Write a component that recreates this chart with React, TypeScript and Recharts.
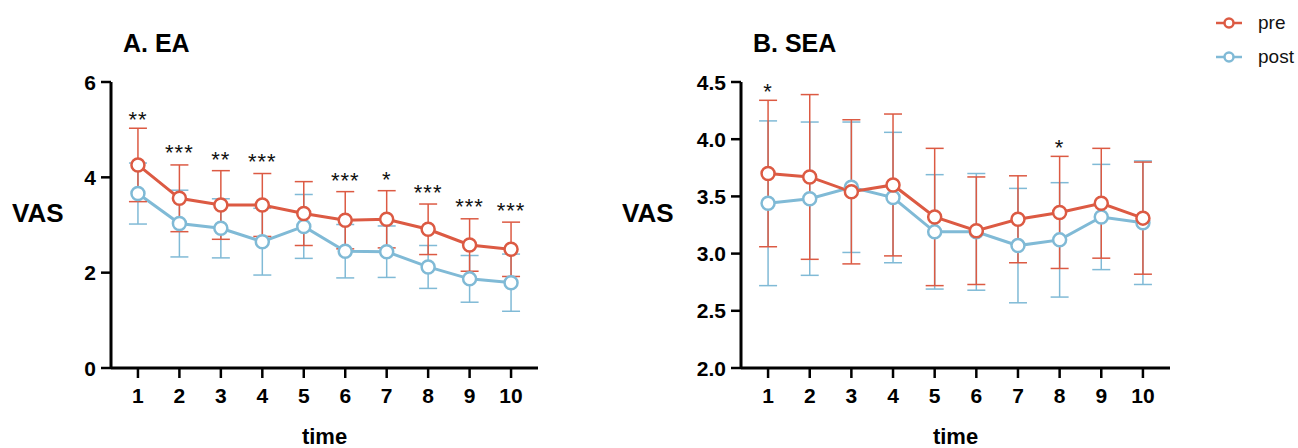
import React from "react";
import {
  LineChart, Line, XAxis, YAxis, ErrorBar, LabelList, Legend,
} from "recharts";

const PRE = "#dc5a43";
const POST = "#80bad6";
const FONT = "'Liberation Sans', Arial, Helvetica, sans-serif";

const times = [1, 2, 3, 4, 5, 6, 7, 8, 9, 10];

// A. EA
const eaPre = [4.26, 3.56, 3.42, 3.42, 3.24, 3.10, 3.12, 2.91, 2.58, 2.49];
const eaPreSd = [0.77, 0.70, 0.72, 0.66, 0.67, 0.60, 0.60, 0.53, 0.55, 0.57];
const eaPost = [3.66, 3.03, 2.93, 2.65, 2.97, 2.45, 2.44, 2.12, 1.87, 1.79];
const eaPostSd = [0.64, 0.70, 0.62, 0.70, 0.67, 0.56, 0.54, 0.45, 0.49, 0.60];
const eaSig = ["**", "***", "**", "***", "", "***", "*", "***", "***", "***"];
const eaSigY = [5.30, 4.61, 4.47, 4.42, null, 4.03, 4.05, 3.77, 3.48, 3.40];
const eaTicks = [0, 2, 4, 6];

// B. SEA
const seaPre = [3.70, 3.67, 3.54, 3.60, 3.32, 3.20, 3.30, 3.36, 3.44, 3.31];
const seaPreSd = [0.64, 0.72, 0.63, 0.62, 0.60, 0.47, 0.38, 0.49, 0.48, 0.49];
const seaPost = [3.44, 3.48, 3.58, 3.49, 3.19, 3.19, 3.07, 3.12, 3.32, 3.27];
const seaPostSd = [0.72, 0.67, 0.57, 0.57, 0.50, 0.51, 0.50, 0.50, 0.46, 0.54];
const seaSig = ["*", "", "", "", "", "", "", "*", "", ""];
const seaSigY = [4.46, null, null, null, null, null, null, 3.97, null, null];
const seaTicks = [2.0, 2.5, 3.0, 3.5, 4.0, 4.5];

const makeRows = (pre: number[], preSd: number[], post: number[], postSd: number[], sig: string[], sigY: (number | null)[]) =>
  times.map((t, i) => ({ t, pre: pre[i], preSd: preSd[i], post: post[i], postSd: postSd[i], sig: sig[i], sigY: sigY[i] }));

const eaRows = makeRows(eaPre, eaPreSd, eaPost, eaPostSd, eaSig, eaSigY);
const seaRows = makeRows(seaPre, seaPreSd, seaPost, seaPostSd, seaSig, seaSigY);

const XTick = (p: any) => (
  <text x={p.x} y={p.y} dy="0.75em" textAnchor="middle" fontSize={21} fontWeight={700} fontFamily={FONT} fill="#000">
    {p.payload.value}
  </text>
);

const yTick = (fmt?: (v: number) => string) => (p: any) => (
  <text x={p.x} y={p.y} dy="0.36em" textAnchor="end" fontSize={21} fontWeight={700} fontFamily={FONT} fill="#000">
    {fmt ? fmt(p.payload.value) : p.payload.value}
  </text>
);

const renderStar = (p: any) => {
  if (!p.value || p.y == null) return null;
  return (
    <text x={p.x} y={p.y + 12} textAnchor="middle" fontSize={22} fontFamily={FONT} letterSpacing={1} fill="#111">
      {p.value}
    </text>
  );
};

const vasLabel = (dx: number) => (p: any) => {
  const vb = p.viewBox;
  return (
    <text x={vb.x + dx} y={vb.y + vb.height / 2 - 12} dy="0.35em" fontSize={26} fontWeight={700} fontFamily={FONT} fill="#000">
      VAS
    </text>
  );
};

const timeLabel = (p: any) => {
  const vb = p.viewBox;
  return (
    <text x={vb.x + vb.width / 2} y={vb.y + vb.height - 4} textAnchor="middle" fontSize={22} fontWeight={700} fontFamily={FONT} fill="#000">
      time
    </text>
  );
};

const LegendBox = () => {
  const items = [{ name: "pre", color: PRE }, { name: "post", color: POST }];
  return (
    <div style={{ fontFamily: FONT, fontSize: 19, color: "#111" }}>
      {items.map((it) => (
        <div key={it.name} style={{ display: "flex", alignItems: "center", height: 34 }}>
          <svg width={26} height={14} style={{ marginRight: 16 }}>
            <line x1={0} y1={7} x2={26} y2={7} stroke={it.color} strokeWidth={2.5} />
            <circle cx={13} cy={7} r={4.5} fill="#fff" stroke={it.color} strokeWidth={2.5} />
          </svg>
          <span>{it.name}</span>
        </div>
      ))}
    </div>
  );
};

function Panel({ rows, ticks, domain, yWidth, width, right, vasDx, fmt, legend }: any) {
  return (
    <LineChart width={width} height={448} data={rows} margin={{ top: 82, right, bottom: 0, left: 0 }}>
      <XAxis
        dataKey="t" type="number" domain={[0.35, 10.65]} ticks={times} height={80}
        axisLine={{ stroke: "#000", strokeWidth: 3 }} tickLine={{ stroke: "#000", strokeWidth: 2.5 }}
        tickSize={10} tickMargin={9} tick={<XTick />} label={timeLabel}
      />
      <YAxis
        type="number" domain={domain} ticks={ticks} width={yWidth} allowDataOverflow
        axisLine={{ stroke: "#000", strokeWidth: 3 }} tickLine={{ stroke: "#000", strokeWidth: 2.5 }}
        tickSize={10} tickMargin={5} tick={yTick(fmt)} label={vasLabel(vasDx)}
      />
      {legend && (
        <Legend
          layout="vertical" align="center" verticalAlign="middle"
          wrapperStyle={{ position: "absolute", top: 6, left: 616, width: 100 }}
          content={<LegendBox />}
        />
      )}
      <Line
        dataKey="post" name="post" stroke={POST} strokeWidth={3} isAnimationActive={false}
        dot={{ r: 6.5, fill: "#fff", stroke: POST, strokeWidth: 2.5 }} activeDot={false}
      >
        <ErrorBar dataKey="postSd" direction="y" width={9} stroke={POST} strokeWidth={1.5} isAnimationActive={false} />
      </Line>
      <Line
        dataKey="pre" name="pre" stroke={PRE} strokeWidth={3} isAnimationActive={false}
        dot={{ r: 6.5, fill: "#fff", stroke: PRE, strokeWidth: 2.5 }} activeDot={false}
      >
        <ErrorBar dataKey="preSd" direction="y" width={9} stroke={PRE} strokeWidth={1.5} isAnimationActive={false} />
      </Line>
      <Line
        dataKey="sigY" stroke="none" dot={false} activeDot={false} legendType="none" isAnimationActive={false}
      >
        <LabelList dataKey="sig" content={renderStar} />
      </Line>
    </LineChart>
  );
}

const titleStyle: React.CSSProperties = {
  position: "absolute", top: 31, fontFamily: FONT, fontSize: 25, fontWeight: 700, lineHeight: "25px", color: "#000",
};

export default function App() {
  return (
    <div style={{ position: "fixed", left: 0, top: 0, width: 1298, height: 448, background: "#fff" }}>
      <div style={{ position: "absolute", left: 0, top: 0 }}>
        <Panel rows={eaRows} ticks={eaTicks} domain={[0, 6]} yWidth={111} width={560} right={22} vasDx={12} />
      </div>
      <div style={{ position: "absolute", left: 600, top: 0 }}>
        <Panel
          rows={seaRows} ticks={seaTicks} domain={[2, 4.5]} yWidth={141} width={698} right={128} vasDx={22}
          fmt={(v: number) => v.toFixed(1)} legend
        />
      </div>
      <div style={{ ...titleStyle, left: 123 }}>A. EA</div>
      <div style={{ ...titleStyle, left: 753 }}>B. SEA</div>
    </div>
  );
}
